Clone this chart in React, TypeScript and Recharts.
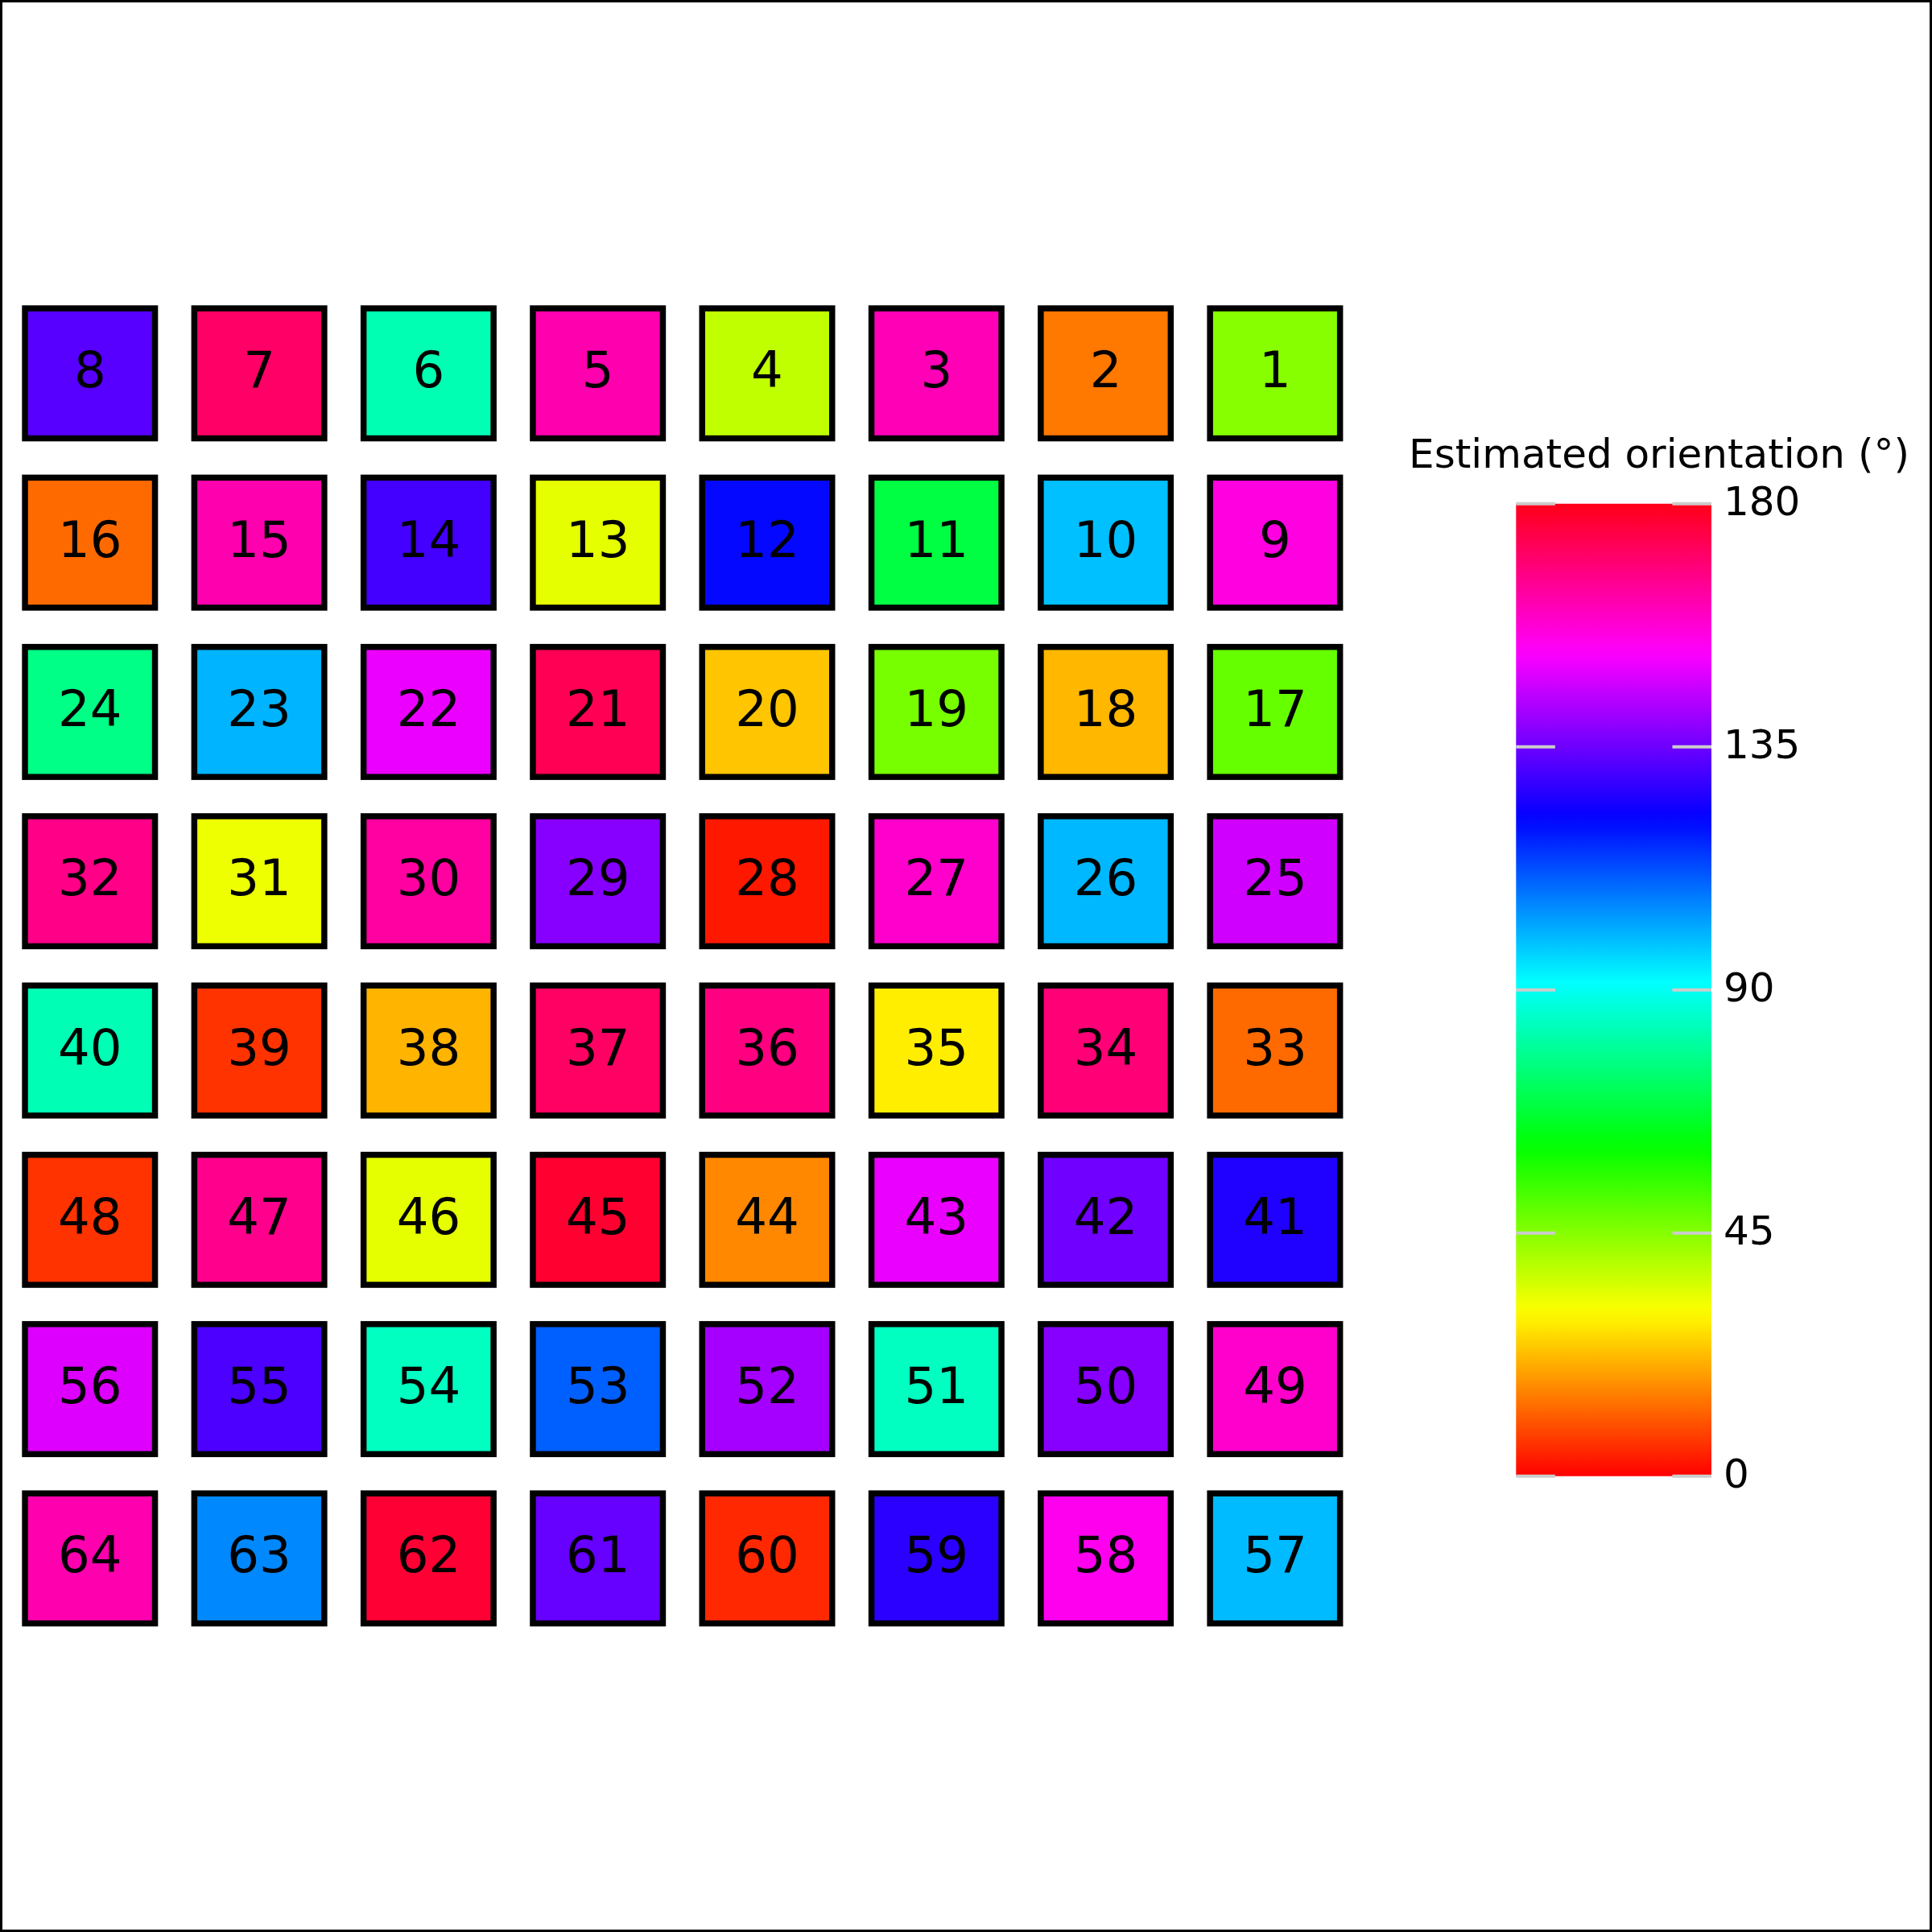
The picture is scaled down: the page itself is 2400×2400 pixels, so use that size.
import React from 'react';
import {
  ScatterChart,
  Scatter,
  ComposedChart,
  XAxis,
  YAxis,
  ReferenceArea,
  ReferenceLine,
} from 'recharts';

// ---- Data -------------------------------------------------------------
// Estimated orientation (degrees) for each patch, listed by patch number.
const orientation1to8 = [44.8, 14.3, 161, 38, 162, 82.4, 170.7, 132.3];
const orientation9to16 = [156, 99, 69, 121.5, 33.5, 130, 162, 12.7];
const orientation17to24 = [48.8, 21.9, 46.7, 23.5, 172.8, 150, 100.4, 77];
const orientation25to32 = [146.8, 99.9, 158.5, 2.9, 138, 163.6, 32.6, 166.7];
const orientation33to40 = [12.7, 168.6, 28.4, 167.6, 171, 21.5, 6.1, 82.5];
const orientation41to48 = [125.7, 135.3, 149.7, 16.2, 177, 33.5, 166, 6.1];
const orientation49to56 = [158.5, 138, 83.9, 141.6, 110.5, 84, 131, 148.3];
const orientation57to64 = [99.5, 154.3, 127.2, 4.8, 134.1, 176.6, 105.7, 162];

const orientationRows = [
  orientation1to8,
  orientation9to16,
  orientation17to24,
  orientation25to32,
  orientation33to40,
  orientation41to48,
  orientation49to56,
  orientation57to64,
];

const colorbarTicks = [0, 45, 90, 135, 180];
const colorbarTitle = 'Estimated orientation (°)';

// ---- matplotlib "hsv" colormap ---------------------------------------
const hsvRed: [number, number][] = [
  [0, 1], [0.15873, 1], [0.174603, 0.96875], [0.333333, 0.03125], [0.349206, 0],
  [0.666667, 0], [0.68254, 0.03125], [0.84127, 0.96875], [0.857143, 1], [1, 1],
];
const hsvGreen: [number, number][] = [
  [0, 0], [0.15873, 0.9375], [0.174603, 1], [0.507937, 1], [0.666667, 0.0625],
  [0.68254, 0], [1, 0],
];
const hsvBlue: [number, number][] = [
  [0, 0], [0.333333, 0], [0.349206, 0.0625], [0.507937, 1], [0.84127, 1],
  [0.857143, 0.9375], [1, 0.09375],
];
const breakpoints = [0, 0.15873, 0.174603, 0.333333, 0.349206, 0.507937, 0.666667, 0.68254, 0.84127, 0.857143, 1];

function interp(seg: [number, number][], t: number): number {
  for (let i = 0; i < seg.length - 1; i++) {
    const [x0, y0] = seg[i];
    const [x1, y1] = seg[i + 1];
    if (t >= x0 && t <= x1) {
      return y0 + ((y1 - y0) * (t - x0)) / (x1 - x0 || 1);
    }
  }
  return seg[seg.length - 1][1];
}
function toHex(v: number) {
  const n = Math.max(0, Math.min(255, Math.round(v * 255)));
  return n.toString(16).padStart(2, '0');
}
function hsvColor(t: number) {
  const tt = Math.max(0, Math.min(1, t));
  return '#' + toHex(interp(hsvRed, tt)) + toHex(interp(hsvGreen, tt)) + toHex(interp(hsvBlue, tt));
}
const VMIN = 0;
const VMAX = 180;
const colorFor = (v: number) => hsvColor((v - VMIN) / (VMAX - VMIN));

// Cells: patch n sits in row floor((n-1)/8), columns numbered right-to-left.
const cells = orientationRows.flatMap((rowVals, r) =>
  rowVals.map((v, k) => ({
    patch: r * 8 + k + 1,
    row: r,
    col: 7 - k,
    value: v,
  }))
);

const colorbarData = colorbarTicks.map((t) => ({ x: 0.5, v: t }));

// ---- Styles -----------------------------------------------------------
const FONT = 'DejaVu Sans, Verdana, sans-serif';
const SIZE = 2400;
const SQUARE = 161.5;

const renderCell = (props: any) => {
  const { cx, cy, payload } = props;
  if (cx == null || cy == null) return <g />;
  return (
    <g>
      <rect
        x={cx - SQUARE / 2}
        y={cy - SQUARE / 2}
        width={SQUARE}
        height={SQUARE}
        fill={colorFor(payload.value)}
        stroke="#000000"
        strokeWidth={7.5}
        strokeLinejoin="miter"
      />
      <text
        x={cx}
        y={cy + 17.5}
        textAnchor="middle"
        fontSize={62.5}
        fontFamily={FONT}
        fill="#000000"
      >
        {payload.patch}
      </text>
    </g>
  );
};

const ColorbarTick = (props: any) => {
  const { x, y, payload } = props;
  return (
    <text x={x} y={y} dy={14} textAnchor="start" fontSize={50} fontFamily={FONT} fill="#000000">
      {payload.value}
    </text>
  );
};

const gradientStops = breakpoints.map((b) => ({ offset: b, color: hsvColor(b) }));

export default function App() {
  return (
    <div style={{ position: 'absolute', left: 0, top: 0, width: SIZE, height: SIZE, background: '#ffffff' }}>
      <div style={{ position: 'absolute', left: 0, top: 0 }}>
        <ScatterChart
          width={SIZE}
          height={SIZE}
          margin={{ left: 6.65, right: SIZE - 1689.05, top: 358.65, bottom: SIZE - 2041.05 }}
        >
          <XAxis type="number" dataKey="col" domain={[-0.5, 7.5]} allowDataOverflow hide />
          <YAxis type="number" dataKey="row" domain={[-0.5, 7.5]} allowDataOverflow reversed hide />
          <Scatter data={cells} shape={renderCell} isAnimationActive={false} />
        </ScatterChart>
      </div>
      <div style={{ position: 'absolute', left: 0, top: 0 }}>
        <ComposedChart
          width={SIZE}
          height={SIZE}
          data={colorbarData}
          margin={{ left: 1883.3, right: SIZE - 2126 - 150, top: 625.7, bottom: SIZE - 1833.7 }}
        >
          <defs>
            <linearGradient id="hsvGradient" x1="0" y1="1" x2="0" y2="0">
              {gradientStops.map((s) => (
                <stop key={s.offset} offset={s.offset} stopColor={s.color} />
              ))}
            </linearGradient>
          </defs>
          <XAxis type="number" dataKey="x" domain={[0, 1]} allowDataOverflow hide />
          <YAxis
            type="number"
            dataKey="v"
            orientation="right"
            domain={[VMIN, VMAX]}
            allowDataOverflow
            ticks={colorbarTicks}
            width={150}
            axisLine={false}
            tickLine={false}
            tickSize={0}
            tickMargin={15}
            tick={<ColorbarTick />}
            interval={0}
          />
          <ReferenceArea
            x1={0}
            x2={1}
            y1={VMIN}
            y2={VMAX}
            fill="url(#hsvGradient)"
            fillOpacity={1}
            stroke="none"
            ifOverflow="visible"
          />
          {colorbarTicks.map((t) => (
            <ReferenceLine
              key={'l' + t}
              segment={[{ x: 0, y: t }, { x: 0.2, y: t }]}
              stroke="#cccccc"
              strokeWidth={4}
              ifOverflow="visible"
            />
          ))}
          {colorbarTicks.map((t) => (
            <ReferenceLine
              key={'r' + t}
              segment={[{ x: 0.8, y: t }, { x: 1, y: t }]}
              stroke="#cccccc"
              strokeWidth={4}
              ifOverflow="visible"
            />
          ))}
        </ComposedChart>
      </div>
      <svg
        width={SIZE}
        height={SIZE}
        style={{ position: 'absolute', left: 0, top: 0, pointerEvents: 'none' }}
      >
        <text x={2061} y={581} textAnchor="middle" fontSize={50} fontFamily={FONT} fill="#000000">
          {colorbarTitle}
        </text>
      </svg>
      <div
        style={{
          position: 'absolute',
          left: 0,
          top: 0,
          width: SIZE,
          height: SIZE,
          boxSizing: 'border-box',
          border: '3px solid #000000',
          pointerEvents: 'none',
        }}
      />
    </div>
  );
}
